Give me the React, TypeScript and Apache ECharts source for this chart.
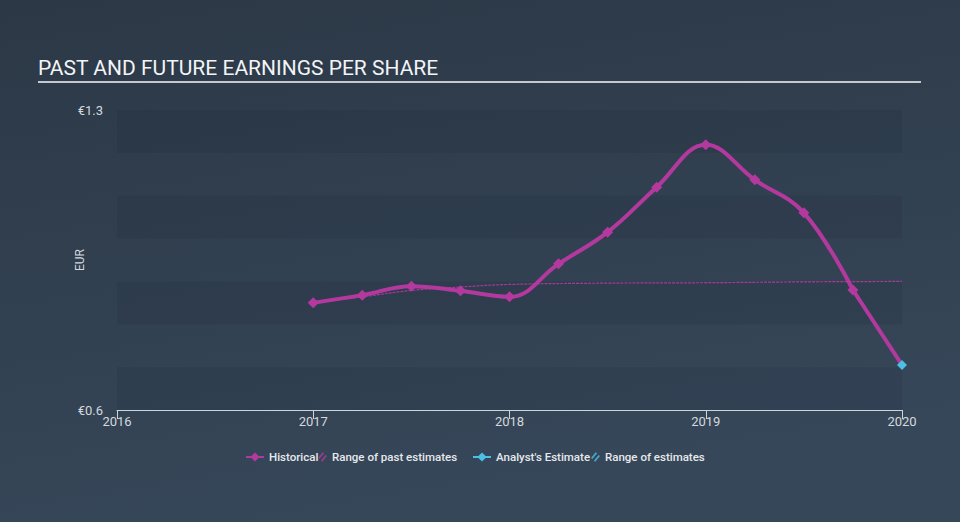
import React, { useEffect, useRef } from "react";
import * as echarts from "echarts";

const titleText = "PAST AND FUTURE EARNINGS PER SHARE";
const historicalYears = [2017, 2017.25, 2017.5, 2017.75, 2018, 2018.25, 2018.5, 2018.75, 2019, 2019.25, 2019.5, 2019.75];
const historicalEps = [0.85, 0.868, 0.889, 0.878, 0.864, 0.941, 1.015, 1.12, 1.219, 1.137, 1.06, 0.88];
const pastRangeYears = [2017, 2017.25, 2017.5, 2017.75, 2018, 2018.5, 2019, 2019.5, 2020];
const pastRangeEps = [0.85, 0.864, 0.879, 0.887, 0.893, 0.896, 0.897, 0.899, 0.9];
const forecastYears = [2019.75, 2020];
const forecastEps = [0.88, 0.705];
const yMin = 0.6;
const yMax = 1.3;
const xMin = 2016;
const xMax = 2020;

const MAGENTA = "#b4399f";
const CYAN = "#4cc0e4";
const TEXT = "#d3d9df";
const LINE_ICON = "path://M0,4 L6,4 L10,0 L14,4 L20,4 L20,6 L14,6 L10,10 L6,6 L0,6 Z";
const HATCH_ICON = "path://M0,7 L5,1 L6.5,2 L1.5,8 Z M3,10 L8,4 L9.5,5 L4.5,11 Z";

const zip = (xs: number[], ys: number[]) => xs.map((x, i) => [x, ys[i]]);

export default function App() {
  const ref = useRef<HTMLDivElement>(null);
  useEffect(() => {
    document.body.style.margin = "0";
    if (!ref.current) return;
    const chart = echarts.init(ref.current, undefined, { renderer: "svg" });
    const legendText = { color: "#e6e9ec", fontSize: 11.5, fontWeight: 500, fontFamily: "Roboto" };
    const mkLegend = (name: string, left: number, icon: string, w: number, h: number, color: string) => ({
      data: [{ name, icon, itemStyle: { color, opacity: 1 } }],
      left,
      top: 451,
      padding: 0,
      itemWidth: w,
      itemHeight: h,
      itemGap: 0,
      textStyle: legendText,
      selectedMode: false,
    });
    chart.setOption({
      animation: false,
      backgroundColor: {
        type: "linear",
        x: 0,
        y: 0,
        x2: 0.3,
        y2: 1,
        colorStops: [
          { offset: 0, color: "#2c3846" },
          { offset: 1, color: "#364759" },
        ],
      },
      title: {
        text: titleText,
        left: 38,
        top: 57,
        padding: 0,
        textStyle: { color: "#f2f4f6", fontSize: 21, fontWeight: "normal", fontFamily: "Roboto" },
      },
      graphic: [
        {
          type: "line",
          shape: { x1: 38, y1: 82, x2: 921, y2: 82 },
          style: { stroke: "#c3c9d0", lineWidth: 2 },
        },
      ],
      legend: [
        mkLegend("Historical", 246, LINE_ICON, 18, 10, MAGENTA),
        mkLegend("Range of past estimates", 318, HATCH_ICON, 9, 11, "rgba(180,57,159,0.8)"),
        mkLegend("Analyst's Estimate", 473, LINE_ICON, 18, 10, CYAN),
        mkLegend("Range of estimates", 591, HATCH_ICON, 9, 11, "rgba(76,192,228,0.8)"),
      ],
      grid: { left: 117, right: 58, top: 110, bottom: 112, containLabel: false },
      xAxis: {
        type: "value",
        min: xMin,
        max: xMax,
        interval: 1,
        axisLine: { show: true, lineStyle: { color: "#cdd4db", width: 1 } },
        axisTick: { show: true, length: 9, lineStyle: { color: "#cdd4db" } },
        axisLabel: { color: TEXT, fontSize: 13, fontFamily: "Roboto", margin: 5, formatter: (v: number) => String(v) },
        splitLine: { show: false },
      },
      yAxis: {
        type: "value",
        min: yMin,
        max: yMax,
        interval: 0.1,
        name: "EUR",
        nameLocation: "middle",
        nameGap: 31,
        nameRotate: 90,
        nameMoveOverlap: false,
        nameTextStyle: { color: TEXT, fontSize: 12, fontFamily: "Roboto" },
        axisLine: { show: false },
        axisTick: { show: false },
        axisLabel: {
          color: TEXT,
          fontSize: 13,
          fontFamily: "Roboto",
          margin: 14,
          formatter: (v: number) =>
            Math.abs(v - yMin) < 1e-6 || Math.abs(v - yMax) < 1e-6 ? "€" + v.toFixed(1) : "",
        },
        splitLine: { show: false },
        splitArea: { show: true, areaStyle: { color: ["rgba(20,30,42,0.11)", "rgba(0,0,0,0)"] } },
      },
      series: [
        {
          name: "Range of past estimates",
          type: "line",
          data: zip(pastRangeYears, pastRangeEps),
          smooth: 0.4,
          showSymbol: false,
          symbol: "none",
          lineStyle: { color: MAGENTA, width: 1.2, type: [3, 1], opacity: 0.9 },
          itemStyle: { color: MAGENTA },
          z: 3,
        },
        {
          name: "Historical",
          type: "line",
          data: zip(historicalYears, historicalEps),
          smooth: 0.4,
          symbol: "diamond",
          symbolSize: 11,
          lineStyle: { color: MAGENTA, width: 4 },
          itemStyle: { color: MAGENTA },
          z: 4,
        },
        {
          name: "Analyst's Estimate",
          type: "line",
          data: [
            { value: [forecastYears[0], forecastEps[0]], symbol: "none" },
            { value: [forecastYears[1], forecastEps[1]], symbol: "diamond", symbolSize: 10 },
          ],
          lineStyle: { color: MAGENTA, width: 4 },
          itemStyle: { color: CYAN },
          z: 5,
        },
        {
          name: "Range of estimates",
          type: "line",
          data: [],
          itemStyle: { color: CYAN },
        },
      ],
    });
    return () => chart.dispose();
  }, []);
  return (
    <div
      ref={ref}
      style={{ position: "absolute", left: 0, top: 0, width: 960, height: 522 }}
    />
  );
}
